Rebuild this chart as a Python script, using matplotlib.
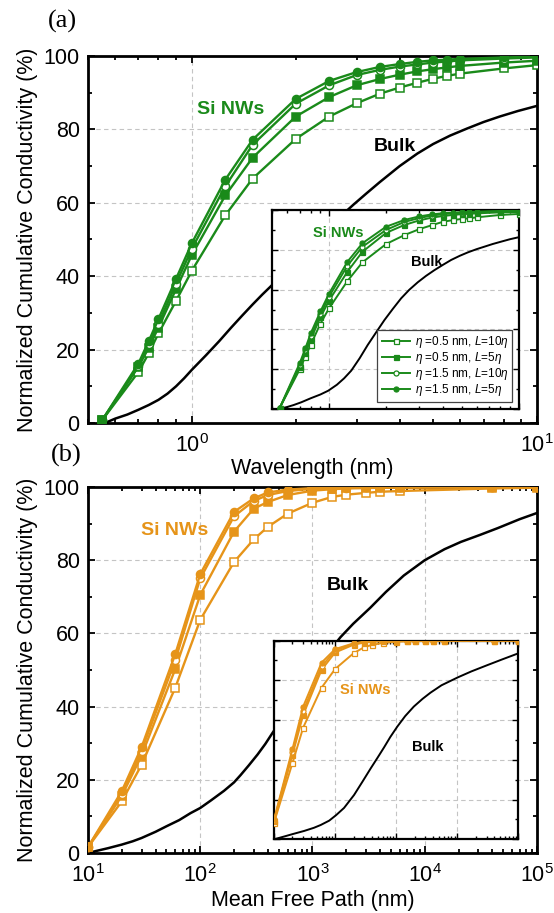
import matplotlib
matplotlib.use("Agg")
import matplotlib.pyplot as plt
from matplotlib.ticker import MultipleLocator, LogLocator, NullFormatter

plt.rcParams['font.family'] = ['Liberation Sans', 'DejaVu Sans']
plt.rcParams['mathtext.fontset'] = 'custom'
plt.rcParams['mathtext.rm'] = 'Liberation Sans'
plt.rcParams['mathtext.it'] = 'Liberation Sans:italic'
plt.rcParams['mathtext.bf'] = 'Liberation Sans:bold'

GREEN = '#1a8a1a'
ORANGE = '#e69419'

# ---------------- panel (a): wavelength ----------------
wl = [0.55, 0.7, 0.75, 0.8, 0.9, 1.0, 1.25, 1.5, 2, 2.5, 3, 3.5, 4, 4.5, 5, 5.5, 6, 8, 10]
a_e05_L10 = [0.8, 13.9, 19.0, 24.4, 33.3, 41.5, 56.6, 66.6, 77.4, 83.5, 87.1, 89.7, 91.4, 92.7, 93.8, 94.6, 95.2, 96.6, 97.5]
a_e05_L5 = [0.8, 15.3, 20.5, 26.0, 36.5, 45.8, 62.0, 72.3, 83.5, 88.8, 92.0, 93.7, 94.9, 95.8, 96.4, 96.9, 97.3, 98.2, 98.7]
a_e15_L10 = [0.8, 15.5, 21.5, 27.0, 38.0, 47.5, 64.5, 75.8, 87.0, 92.0, 94.8, 96.2, 97.1, 97.7, 98.2, 98.5, 98.8, 99.3, 99.6]
a_e15_L5 = [0.8, 16.2, 22.3, 28.3, 39.3, 49.0, 66.3, 77.2, 88.3, 93.2, 95.6, 97.0, 97.8, 98.4, 98.8, 99.0, 99.2, 99.6, 99.8]
a_bulk_x = [0.56, 0.6, 0.65, 0.7, 0.75, 0.8, 0.85, 0.9, 0.95, 1.0, 1.1, 1.2, 1.3, 1.4, 1.5, 1.6, 1.7,
            2.0, 2.5, 2.94, 3.2, 3.5, 4.0, 4.5, 5.0, 5.6, 6.26, 7.0, 7.8, 8.8, 10]
a_bulk_y = [0.0, 1.2, 2.3, 3.6, 4.9, 6.3, 8.0, 10.0, 12.2, 14.5, 18.5, 22.3, 26.0, 29.3, 32.3, 35.0, 37.4,
            44.5, 53.5, 59.5, 62.5, 65.6, 70.0, 73.4, 76.0, 78.3, 80.2, 82.0, 83.5, 85.0, 86.4]

# inset of panel (a)
ia_e05_L10 = [0.7, 19.9, 26.3, 32.2, 42.9, 50.6, 64.3, 73.7, 82.9, 87.4, 90.4, 92.4, 94.1, 94.9, 95.5, 95.8, 96.3, 97.5, 98.0]
ia_e05_L5 = [0.7, 21.0, 28.0, 35.0, 46.0, 54.5, 69.0, 79.0, 88.5, 92.5, 94.8, 96.2, 97.0, 97.5, 97.9, 98.1, 98.3, 98.8, 99.0]
ia_e15_L10 = [0.7, 22.0, 29.5, 36.5, 47.5, 56.5, 72.0, 81.5, 90.0, 94.0, 96.0, 97.2, 97.9, 98.3, 98.6, 98.8, 98.9, 99.3, 99.5]
ia_e15_L5 = [0.7, 23.0, 30.5, 38.0, 49.0, 58.0, 74.0, 83.3, 91.6, 95.0, 96.8, 97.8, 98.4, 98.7, 98.9, 99.1, 99.2, 99.5, 99.7]
ia_bulk_x = [0.542, 0.6, 0.65, 0.714, 0.8, 0.9, 0.99, 1.1, 1.2, 1.31, 1.45, 1.60, 1.78, 1.96, 2.17, 2.40,
             2.65, 2.94, 3.25, 3.60, 4.0, 4.41, 4.9, 5.40, 6.0, 6.62, 7.3, 8.10, 9.0, 10]
ia_bulk_y = [0.0, 1.0, 2.0, 3.4, 5.4, 7.3, 9.2, 12.2, 15.4, 19.3, 25.5, 32.2, 38.8, 44.7, 50.3, 55.6,
             59.9, 63.7, 66.9, 69.8, 72.5, 74.9, 77.0, 78.7, 80.3, 81.6, 82.9, 84.1, 85.3, 86.3]

# ---------------- panel (b): mean free path ----------------
mfp = [10, 20, 30, 60, 100, 200, 300, 400, 600, 1000, 1500, 2000, 3000, 4000, 6000, 40000, 100000]
b_e05_L10 = [1.6, 14.1, 24.1, 45.2, 63.7, 79.5, 85.7, 89.1, 92.7, 95.7, 97.3, 97.9, 98.4, 98.7, 98.9, 99.6, 99.8]
b_e05_L5 = [1.6, 15.6, 26.6, 50.3, 70.5, 87.8, 94.1, 95.9, 97.8, 99.0, 99.4, 99.6, 99.7, 99.8, 99.8, 99.9, 100]
b_e15_L10 = [1.6, 16.0, 28.0, 52.7, 75.0, 92.0, 96.2, 97.8, 98.9, 99.5, 99.7, 99.8, 99.9, 99.9, 99.9, 100, 100]
b_e15_L5 = [1.6, 16.9, 28.9, 54.4, 76.2, 93.2, 96.9, 98.5, 99.3, 99.7, 99.8, 99.9, 99.9, 100, 100, 100, 100]
b_bulk_x = [10, 12, 15, 20, 25, 30, 40, 50, 65, 82, 100, 125, 163, 200, 229, 270, 324, 380, 438,
            700, 1100, 1780, 2300, 3270, 4500, 6500, 10000, 15000, 21000, 31000, 45000, 70000, 100000]
b_bulk_y = [0.0, 0.6, 1.3, 2.3, 3.2, 4.1, 5.8, 7.3, 9.0, 10.9, 12.3, 14.4, 17.0, 19.3, 21.3, 23.9, 26.9, 29.8, 32.7,
            42.0, 51.0, 59.0, 62.6, 67.0, 71.3, 75.8, 80.0, 83.0, 85.0, 86.9, 88.8, 91.2, 92.9]

# inset of panel (b)
ib_e05_L10 = [8.4, 38.3, 56.2, 76.3, 85.7, 93.6, 96.7, 97.8, 98.8, 99.4, 99.6, 99.7, 99.8, 99.9, 99.9, 100, 100]
ib_e05_L5 = [9.0, 42.4, 62.6, 85.3, 94.0, 97.9, 99.0, 99.4, 99.7, 99.9, 99.9, 100, 100, 100, 100, 100, 100]
ib_e15_L10 = [9.5, 44.0, 64.5, 87.0, 95.0, 98.4, 99.3, 99.6, 99.8, 99.9, 100, 100, 100, 100, 100, 100, 100]
ib_e15_L5 = [10.0, 45.3, 66.8, 88.9, 95.7, 98.6, 99.4, 99.7, 99.9, 100, 100, 100, 100, 100, 100, 100, 100]
ib_bulk_x = [10, 15, 20, 31, 45, 58, 80, 104, 140, 204, 280, 382, 500, 630, 800, 1040, 1400, 1940,
             2700, 3640, 5500, 10200, 17000, 30700, 55000, 100000]
ib_bulk_y = [0.0, 1.5, 2.6, 4.2, 5.8, 7.2, 9.4, 12.2, 15.8, 22.3, 29.0, 35.7, 41.3, 46.2, 51.5, 56.7, 62.0, 66.8,
             70.7, 73.8, 77.5, 81.5, 84.5, 87.6, 90.6, 93.6]

labels = [r'$\eta$ =0.5 nm, $L$=10$\eta$', r'$\eta$ =0.5 nm, $L$=5$\eta$',
          r'$\eta$ =1.5 nm, $L$=10$\eta$', r'$\eta$ =1.5 nm, $L$=5$\eta$']
markers = ['s', 's', 'o', 'o']
filled = [False, True, False, True]


def style(ax, spine_lw, major_len, minor_len, tick_w, labelsize, xlim, labels_on=True):
    ax.set_xscale('log')
    ax.set_xlim(*xlim)
    ax.set_ylim(0, 100)
    ax.yaxis.set_major_locator(MultipleLocator(20))
    ax.yaxis.set_minor_locator(MultipleLocator(10))
    ax.xaxis.set_major_locator(LogLocator(base=10))
    ax.xaxis.set_minor_locator(LogLocator(base=10, subs=range(2, 10)))
    ax.xaxis.set_minor_formatter(NullFormatter())
    ax.tick_params(which='both', direction='in', top=True, right=True, width=tick_w)
    ax.tick_params(which='major', length=major_len, labelsize=labelsize)
    ax.tick_params(which='minor', length=minor_len)
    ax.tick_params(axis='x', which='major', pad=8)
    ax.tick_params(axis='y', which='major', pad=6)
    if not labels_on:
        ax.tick_params(which='both', labelbottom=False, labelleft=False)
    for s in ax.spines.values():
        s.set_linewidth(spine_lw)
    ax.grid(True, which='major', ls=(0, (4, 3)), color='#c4c4c4', lw=0.8)
    ax.set_axisbelow(True)


def draw_set(ax, x, series, color, ms, lw, mew):
    handles = []
    for ys, m, f, lab in zip(series, markers, filled, labels):
        h, = ax.plot(x, ys, color=color, lw=lw, marker=m, ms=ms,
                     mfc=color if f else 'white', mec=color, mew=mew,
                     label=lab, zorder=3)
        handles.append(h)
    return handles


fig = plt.figure(figsize=(5.54, 9.13), dpi=100)

# ----- panel (a) -----
ax_a = fig.add_axes([0.1588, 0.5367, 0.8105, 0.4020])
style(ax_a, 2.0, 5, 2.8, 1.3, 15.5, (0.5, 10))
ax_a.plot(a_bulk_x, a_bulk_y, color='black', lw=1.8, zorder=2)
draw_set(ax_a, wl, [a_e05_L10, a_e05_L5, a_e15_L10, a_e15_L5], GREEN, 5.8, 1.7, 1.1)
ax_a.set_xlabel('Wavelength (nm)', fontsize=15.5, labelpad=1)
ax_a.set_ylabel('Normalized Cumulative Conductivity (%)', fontsize=15.5, labelpad=4)
ax_a.text(0.317, 0.853, 'Si NWs', transform=ax_a.transAxes, color=GREEN,
          fontsize=14, fontweight='bold', ha='center', va='center')
ax_a.text(0.684, 0.753, 'Bulk', transform=ax_a.transAxes, color='black',
          fontsize=14, fontweight='bold', ha='center', va='center')

ins_a = fig.add_axes([0.4910, 0.5520, 0.4450, 0.2180])
ins_a.set_facecolor('white')
style(ins_a, 1.6, 4, 2.2, 1.0, 9, (0.5, 10), labels_on=False)
ins_a.plot(ia_bulk_x, ia_bulk_y, color='black', lw=1.4, zorder=2)
hs = draw_set(ins_a, wl, [ia_e05_L10, ia_e05_L5, ia_e15_L10, ia_e15_L5], GREEN, 3.6, 1.4, 0.9)
ins_a.text(0.268, 0.883, 'Si NWs', transform=ins_a.transAxes, color=GREEN,
           fontsize=10.5, fontweight='bold', ha='center', va='center')
ins_a.text(0.626, 0.740, 'Bulk', transform=ins_a.transAxes, color='black',
           fontsize=10.5, fontweight='bold', ha='center', va='center')
leg = ins_a.legend(handles=hs, loc='lower right', bbox_to_anchor=(0.975, 0.035),
                   borderaxespad=0, fontsize=8.5, frameon=True, fancybox=False,
                   framealpha=1, edgecolor='#444444', handlelength=2.4,
                   handletextpad=0.4, labelspacing=0.0, borderpad=0.35)
leg.get_frame().set_linewidth(0.9)

# ----- panel (b) -----
ax_b = fig.add_axes([0.1588, 0.0657, 0.8105, 0.4009])
style(ax_b, 2.0, 5, 2.8, 1.3, 15.5, (10, 1e5))
ax_b.plot(b_bulk_x, b_bulk_y, color='black', lw=1.8, zorder=2)
draw_set(ax_b, mfp, [b_e05_L10, b_e05_L5, b_e15_L10, b_e15_L5], ORANGE, 5.8, 1.7, 1.1)
ax_b.set_xlabel('Mean Free Path (nm)', fontsize=15.5, labelpad=2)
ax_b.set_ylabel('Normalized Cumulative Conductivity (%)', fontsize=15.5, labelpad=4)
ax_b.text(0.194, 0.880, 'Si NWs', transform=ax_b.transAxes, color=ORANGE,
          fontsize=14, fontweight='bold', ha='center', va='center')
ax_b.text(0.579, 0.732, 'Bulk', transform=ax_b.transAxes, color='black',
          fontsize=14, fontweight='bold', ha='center', va='center')

ins_b = fig.add_axes([0.4946, 0.0807, 0.4413, 0.2177])
ins_b.set_facecolor('white')
style(ins_b, 1.6, 4, 2.2, 1.0, 9, (10, 1e5), labels_on=False)
ins_b.plot(ib_bulk_x, ib_bulk_y, color='black', lw=1.4, zorder=2)
draw_set(ins_b, mfp, [ib_e05_L10, ib_e05_L5, ib_e15_L10, ib_e15_L5], ORANGE, 3.6, 1.4, 0.9)
ins_b.text(0.375, 0.751, 'Si NWs', transform=ins_b.transAxes, color=ORANGE,
           fontsize=10.5, fontweight='bold', ha='center', va='center')
ins_b.text(0.629, 0.466, 'Bulk', transform=ins_b.transAxes, color='black',
           fontsize=10.5, fontweight='bold', ha='center', va='center')

# panel tags
fig.text(0.112, 0.976, '(a)', family=['Liberation Serif', 'DejaVu Serif'],
         fontsize=19, ha='center', va='center')
fig.text(0.120, 0.5016, '(b)', family=['Liberation Serif', 'DejaVu Serif'],
         fontsize=19, ha='center', va='center')

fig.savefig('out.png', dpi=100)
